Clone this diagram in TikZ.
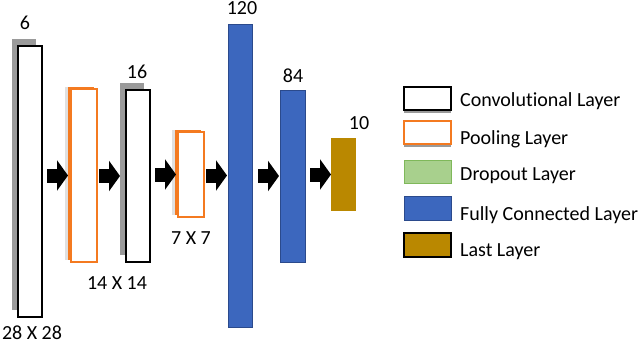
\documentclass[tikz,border=0pt]{standalone}
\usepackage{fontspec}
\setmainfont{Carlito}[Ligatures=NoCommon]
\usetikzlibrary{arrows.meta,shadows}
\definecolor{poolorange}{HTML}{F47A20}
\definecolor{fcblue}{HTML}{3C67BE}
\definecolor{fcborder}{HTML}{2B4A8C}
\definecolor{lastgold}{HTML}{BA8800}
\definecolor{dropgreen}{HTML}{A8D08D}
\definecolor{dropborder}{HTML}{7FB85A}
\definecolor{shadowgray}{HTML}{9A9A9A}
\tikzset{
  layer/.style={rectangle, inner sep=0pt, outer sep=0pt, anchor=north west},
  convbox/.style={layer, draw=black, line width=1.3pt, fill=white,
    drop shadow={shadow xshift=-6pt, shadow yshift=7pt, fill=shadowgray, opacity=1}},
  poolbox/.style={layer, draw=poolorange, line width=1.3pt, fill=white,
    drop shadow={shadow xshift=-6pt, shadow yshift=2pt, fill=black!12, opacity=1},
    drop shadow={shadow xshift=-3pt, shadow yshift=2.5pt, fill=poolorange, opacity=1}},
  fcbox/.style={layer, draw=fcborder, line width=1pt, fill=fcblue},
  lastbox/.style={layer, fill=lastgold},
  lbl/.style={inner sep=0pt, font=\fontsize{20}{24}\selectfont},
  blockarr/.style={line width=14pt, draw=black, -{Triangle[length=11pt,width=30pt]}},
  legbox/.style={layer, minimum width=47pt, minimum height=23pt},
  legtxt/.style={anchor=base west, inner sep=0pt, font=\fontsize{20}{24}\selectfont}
}
\begin{document}
\begin{tikzpicture}[x=1pt,y=-1pt]
\useasboundingbox (0,0) rectangle (640,343);
% layers
\node[convbox, minimum width=24pt, minimum height=271pt] (c1) at (18,46) {};
\node[poolbox, minimum width=26pt, minimum height=173pt] (p1) at (71,89) {};
\node[convbox, minimum width=24pt, minimum height=172pt] (c2) at (126,90) {};
\node[poolbox, minimum width=26pt, minimum height=85pt] (p2) at (178,132) {};
\node[fcbox, minimum width=24pt, minimum height=303pt] (f1) at (228,24) {};
\node[fcbox, minimum width=25pt, minimum height=172pt] (f2) at (280,90) {};
\node[lastbox, minimum width=25pt, minimum height=73pt] (ll) at (331,138) {};
% labels
\node[lbl] (t6) at (25,23) {6};
\node[lbl] (t28) at (32,332.5) {28 X 28};
\node[lbl] (t16) at (137,72) {16};
\node[lbl] (t14) at (117,283) {14 X 14};
\node[lbl] (t7) at (191,238) {7 X 7};
\node[lbl] (t120) at (242,8) {120};
\node[lbl] (t84) at (293,76) {84};
\node[lbl] (t10) at (359,123) {10};
% arrows
\draw[blockarr] ([xshift=-24pt]p1.west) -- ([xshift=-3pt]p1.west);
\draw[blockarr] ([xshift=-27pt]c2.west) -- ([xshift=-6pt]c2.west);
\draw[blockarr] ([xshift=-23pt]p2.west) -- ([xshift=-2pt]p2.west);
\draw[blockarr] ([xshift=-22pt]f1.west) -- ([xshift=-1pt]f1.west);
\draw[blockarr] ([xshift=-22pt]f2.west) -- ([xshift=-1pt]f2.west);
\draw[blockarr] ([xshift=-21pt]ll.west) -- (ll.west);
% legend
\node[legbox, draw=black, line width=1.3pt, fill=white,
  drop shadow={shadow xshift=0pt, shadow yshift=-3pt, fill=shadowgray, opacity=1}] (lg1) at (404,87) {};
\node[legbox, draw=poolorange, line width=1.3pt, fill=white,
  drop shadow={shadow xshift=0pt, shadow yshift=-3pt, fill=shadowgray, opacity=1}] (lg2) at (404,121) {};
\node[legbox, draw=dropborder, line width=1pt, fill=dropgreen] (lg3) at (404,160) {};
\node[legbox, draw=fcborder, line width=1pt, fill=fcblue, minimum height=24pt] (lg4) at (404,196) {};
\node[legbox, draw=black, line width=1.3pt, fill=lastgold, minimum height=24pt] (lg5) at (404,233) {};
\node[legtxt] (lt1) at (460,106.7) {Convolutional Layer};
\node[legtxt] (lt2) at (460,144) {Pooling Layer};
\node[legtxt] (lt3) at (460,180) {Dropout Layer};
\node[legtxt] (lt4) at (460,220) {Fully Connected Layer};
\node[legtxt] (lt5) at (460,256.7) {Last Layer};
\end{tikzpicture}
\end{document}
